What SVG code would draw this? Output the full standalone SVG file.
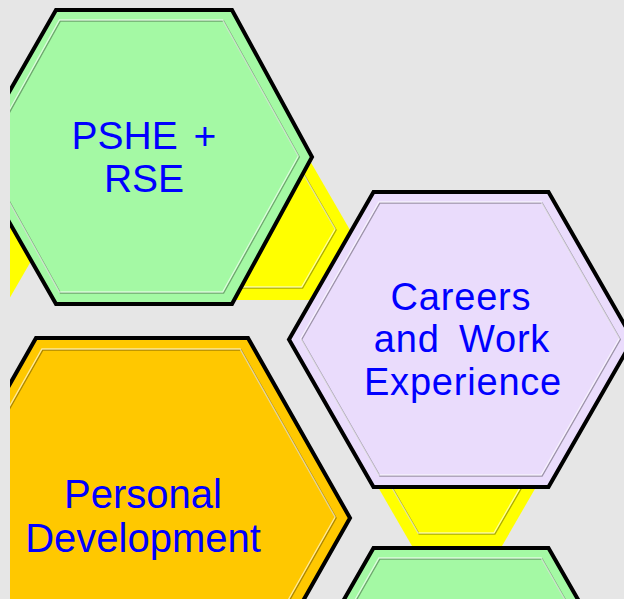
<svg xmlns="http://www.w3.org/2000/svg" width="624" height="599" viewBox="0 0 624 599">
  <style>
    .edge { stroke: #000; stroke-width: 4; stroke-linejoin: miter; }
    .green { fill: #a4f9a4; }
    .lav { fill: #eadcfc; }
    .orange { fill: #ffc800; }
    .yellow { fill: #ffff00; }
    .lo { fill: none; stroke: #000; stroke-opacity: 0.33; stroke-width: 1.4; }
    .hi { fill: none; stroke: #fff; stroke-opacity: 0.6; stroke-width: 1.3; }
    .label { font-family: "Liberation Sans", Arial, sans-serif; fill: #0000ff; text-anchor: middle; }
  </style>
  <defs>
    <clipPath id="view">
      <rect x="10" y="0" width="614" height="599"/>
    </clipPath>
  </defs>
  <rect x="0" y="0" width="624" height="599" fill="#e6e6e6"/>
  <g clip-path="url(#view)">
    <g id="yellow-left">
      <polygon class="yellow" points="-113,230 -72.5,160 8.5,160 49,230 8.5,300 -72.5,300"/>
    </g>
    <g id="yellow-mid">
      <polygon class="yellow" points="188,230 228.5,160 309.5,160 350,230 309.5,300 228.5,300"/>
      <polygon class="lo" points="201.9,230 235.4,172 302.6,172 336.1,230 302.6,288 235.4,288"/>
      <polygon class="hi" transform="translate(-1,-1)" points="201.9,230 235.4,172 302.6,172 336.1,230 302.6,288 235.4,288"/>
    </g>
    <g id="yellow-lower">
      <polygon class="yellow" points="367,468 412,390 502,390 547,468 502,546 412,546"/>
      <polygon class="lo" points="380.9,468 419.1,402 494.9,402 533.1,468 494.9,534 419.1,534"/>
      <polygon class="hi" transform="translate(-1,-1)" points="380.9,468 419.1,402 494.9,402 533.1,468 494.9,534 419.1,534"/>
    </g>
    <g id="pshe">
      <polygon class="green edge" points="-28,157 56,10 232,10 312,157 232,304 56,304"/>
      <polygon class="lo" points="-15.3,157 60.4,21 223.6,21 299.3,157 223.6,293 60.4,293"/>
      <polygon class="hi" transform="translate(-1,-1)" points="-15.3,157 60.4,21 223.6,21 299.3,157 223.6,293 60.4,293"/>
      <text class="label" font-size="39" word-spacing="5" x="144" y="149">PSHE +</text>
      <text class="label" font-size="39" x="144" y="192">RSE</text>
    </g>
    <g id="careers">
      <polygon class="lav edge" points="289,339.5 373.5,192 548.5,192 633,339.5 548.5,487 373.5,487"/>
      <polygon class="lo" points="301.7,339.5 379.9,203 542.1,203 620.3,339.5 542.1,476 379.9,476"/>
      <polygon class="hi" transform="translate(-1,-1)" points="301.7,339.5 379.9,203 542.1,203 620.3,339.5 542.1,476 379.9,476"/>
      <text class="label" font-size="38" letter-spacing="0.8" word-spacing="8" x="461" y="310">Careers</text>
      <text class="label" font-size="38" letter-spacing="0.8" word-spacing="8" x="462" y="352">and Work</text>
      <text class="label" font-size="38" letter-spacing="0.8" word-spacing="8" x="463" y="395">Experience</text>
    </g>
    <g id="green-bottom">
      <polygon class="green edge" points="289,695.5 373.5,548 548.5,548 633,695.5 548.5,843 373.5,843"/>
      <polygon class="lo" points="301.7,695.5 379.9,559 542.1,559 620.3,695.5 542.1,832 379.9,832"/>
      <polygon class="hi" transform="translate(-1,-1)" points="301.7,695.5 379.9,559 542.1,559 620.3,695.5 542.1,832 379.9,832"/>
    </g>
    <g id="personal">
      <polygon class="orange edge" points="-66,518 36,338 248,338 350,518 248,698 36,698"/>
      <polygon class="lo" points="-52.1,518 42.9,350 241.1,350 336.1,518 241.1,686 42.9,686"/>
      <polygon class="hi" transform="translate(-1,-1)" points="-52.1,518 42.9,350 241.1,350 336.1,518 241.1,686 42.9,686"/>
      <text class="label" font-size="40" x="143" y="508">Personal</text>
      <text class="label" font-size="40" x="143" y="552">Development</text>
    </g>
  </g>
  <g id="connectors"/>
</svg>
